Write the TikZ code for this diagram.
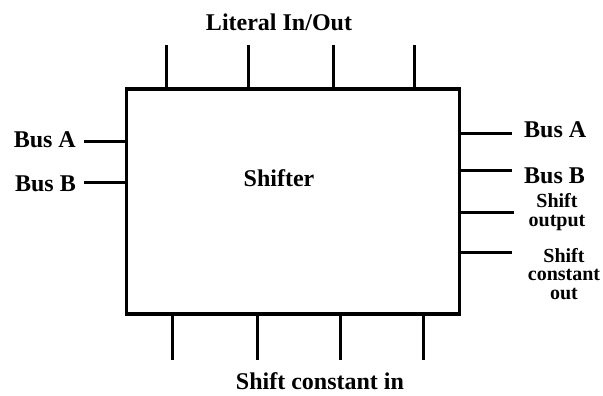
\documentclass[tikz,border=0pt]{standalone}
\usepackage{fontspec}
\setmainfont{Liberation Serif}
\usetikzlibrary{positioning,calc}

\begin{document}
\begin{tikzpicture}[
  x=1pt,y=-1pt,
  unit/.style={draw=black,line width=3.5pt,minimum width=333pt,minimum height=225pt,inner sep=0pt},
  wire/.style={draw=black,line width=3pt},
  lbl/.style={inner sep=0pt,font=\fontsize{24}{26}\selectfont\bfseries},
  sublbl/.style={inner sep=0pt,align=center,font=\fontsize{20}{18.5}\selectfont\bfseries},
]
\useasboundingbox (0,0) rectangle (603,396);
\node[unit] (shifter) at (293,201.5) {};
\node[lbl] (title) at (279,178) {Shifter};
% top and bottom buses
\node[lbl] (lit) at (279,22) {Literal In/Out};
\node[lbl] (sci) at (320,381) {Shift constant in};
\foreach \i/\xx in {1/166,2/248,3/333,4/414}
  \coordinate (lt\i) at (\xx,45);
\foreach \i/\xx in {1/172,2/257,3/340,4/423}
  \coordinate (lb\i) at (\xx,360);
\foreach \i in {1,...,4} {
  \draw[wire] (lt\i) -- (lt\i |- shifter.north);
  \draw[wire] (lb\i) -- (lb\i |- shifter.south);
}
% left side
\coordinate (la) at (84,141);
\coordinate (lbb) at (84,182);
\node[lbl,anchor=east] (busAin) at (76,140) {Bus A};
\node[lbl,anchor=east] (busBin) at (76,184) {Bus B};
\draw[wire] (la) -- (la -| shifter.west);
\draw[wire] (lbb) -- (lbb -| shifter.west);
% right side
\coordinate (ra) at (512,133);
\coordinate (rb) at (512,170);
\coordinate (rso) at (514,212);
\coordinate (rsc) at (512,252);
\foreach \c in {ra,rb,rso,rsc}
  \draw[wire] (\c) -- (\c -| shifter.east);
\node[lbl,anchor=west] (busAout) at (524,130) {Bus A};
\node[lbl,anchor=west] (busBout) at (524,176) {Bus B};
\node[sublbl] (shout) at (557,212) {Shift\\output};
\node[sublbl] (shcout) at (564,274) {Shift\\constant\\out};
\end{tikzpicture}
\end{document}
